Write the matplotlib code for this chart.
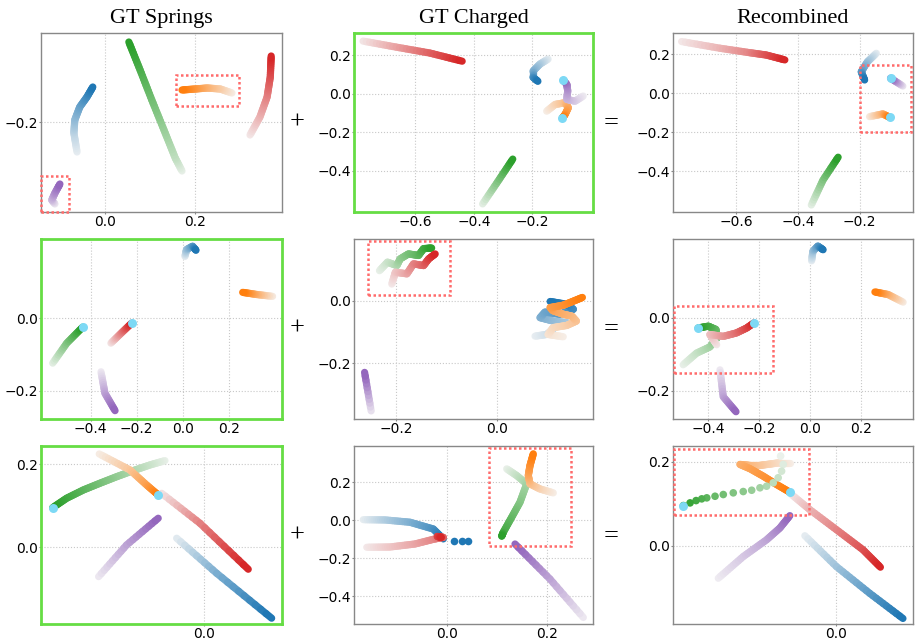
import numpy as np
import matplotlib
matplotlib.use('Agg')
import matplotlib.pyplot as plt
from matplotlib.collections import LineCollection
from matplotlib.patches import Rectangle
from matplotlib.colors import to_rgb
from matplotlib.ticker import FuncFormatter

# colours of the five particles
colors = {'blue': '#1f77b4', 'orange': '#ff7f0e', 'green': '#2ca02c',
          'red': '#d62728', 'purple': '#9467bd'}
cyan = '#7dd9f5'

col_titles = ['GT Springs', 'GT Charged', 'Recombined']

# ---- trajectories, points listed from faded start to bold end ----
springs_1 = {
    'blue': [(-0.062, -0.26), (-0.069, -0.222), (-0.067, -0.196), (-0.056, -0.17), (-0.040, -0.15), (-0.027, -0.13)],
    'green': [(0.171, -0.298), (0.156, -0.272), (0.131, -0.216), (0.104, -0.156), (0.078, -0.096), (0.053, -0.04)],
    'orange': [(0.282, -0.142), (0.256, -0.134), (0.227, -0.132), (0.2, -0.134), (0.171, -0.136)],
    'red': [(0.322, -0.226), (0.344, -0.19), (0.36, -0.15), (0.367, -0.11), (0.369, -0.068)],
    'purple': [(-0.111, -0.364), (-0.118, -0.356), (-0.111, -0.342), (-0.1, -0.324)],
}
charged_1 = {
    'red': [(-0.779, 0.272), (-0.666, 0.241), (-0.55, 0.21), (-0.44, 0.168)],
    'blue': [(-0.146, 0.179), (-0.174, 0.153), (-0.198, 0.116), (-0.198, 0.085), (-0.181, 0.064)],
    'orange': [(-0.151, -0.091), (-0.122, -0.056), (-0.088, -0.047), (-0.077, -0.073), (-0.088, -0.108), (-0.097, -0.125)],
    'purple': [(-0.026, -0.0125), (-0.054, -0.039), (-0.082, -0.03), (-0.079, 0.014), (-0.082, 0.048), (-0.094, 0.069)],
    'green': [(-0.37, -0.571), (-0.318, -0.455), (-0.267, -0.339)],
}
recomb_1 = {
    'red': [(-0.778, 0.265), (-0.654, 0.231), (-0.557, 0.208), (-0.503, 0.196), (-0.443, 0.171)],
    'blue': [(-0.146, 0.205), (-0.175, 0.161), (-0.195, 0.110), (-0.184, 0.068)],
    'orange': [(-0.168, -0.12), (-0.125, -0.106), (-0.103, -0.123)],
    'purple': [(-0.06, 0.037), (-0.1, 0.077)],
    'green': [(-0.357, -0.573), (-0.319, -0.445), (-0.27, -0.328)],
}
springs_2 = {
    'blue': [(0.01, 0.17), (0.017, 0.189), (0.043, 0.198), (0.058, 0.187)],
    'orange': [(0.391, 0.06), (0.323, 0.065), (0.261, 0.071)],
    'green': [(-0.565, -0.124), (-0.504, -0.069), (-0.435, -0.025)],
    'red': [(-0.312, -0.069), (-0.265, -0.04), (-0.222, -0.014)],
    'purple': [(-0.355, -0.148), (-0.338, -0.207), (-0.294, -0.255)],
}
charged_2 = {
    'purple': [(-0.249, -0.354), (-0.262, -0.23)],
    'green': [(-0.2325, 0.097), (-0.2166, 0.1245), (-0.198, 0.1135), (-0.1915, 0.135), (-0.175, 0.151),
              (-0.155, 0.146), (-0.145, 0.168), (-0.129, 0.17)],
    'red': [(-0.208, 0.054), (-0.201, 0.092), (-0.178, 0.087), (-0.165, 0.119), (-0.145, 0.1135),
            (-0.135, 0.135), (-0.122, 0.151)],
    'blue': [(0.076, -0.1135), (0.099, -0.108), (0.119, -0.081), (0.139, -0.070), (0.112, -0.065), (0.086, -0.054),
             (0.096, -0.036), (0.125, -0.043), (0.152, -0.027), (0.139, -0.011), (0.106, -0.002)],
    'orange': [(0.132, -0.1155), (0.102, -0.108), (0.112, -0.086), (0.139, -0.079), (0.158, -0.065), (0.149, -0.049),
               (0.132, -0.043), (0.112, -0.032), (0.106, -0.0215), (0.132, -0.014), (0.149, -0.003), (0.170, 0.011)],
}
recomb_2 = {
    'blue': [(0.0067, 0.1565), (0.012, 0.183), (0.0315, 0.197), (0.052, 0.187)],
    'orange': [(0.367, 0.043), (0.308, 0.064), (0.256, 0.071)],
    'purple': [(-0.354, -0.143), (-0.341, -0.217), (-0.291, -0.258)],
    'green': [(-0.499, -0.129), (-0.446, -0.097), (-0.394, -0.080), (-0.365, -0.055), (-0.37, -0.032),
              (-0.4, -0.023), (-0.44, -0.028)],
    'red': [(-0.367, -0.074), (-0.394, -0.046), (-0.341, -0.051), (-0.289, -0.0415), (-0.249, -0.028), (-0.22, -0.014)],
}
springs_3 = {
    'green': [(-0.0433, 0.2087), (-0.06, 0.1983), (-0.0786, 0.1846), (-0.097, 0.170), (-0.1156, 0.1542),
              (-0.134, 0.138), (-0.1526, 0.118), (-0.168, 0.0954)],
    'orange': [(-0.1163, 0.2248), (-0.0822, 0.1863), (-0.0637, 0.150), (-0.0508, 0.126)],
    'red': [(-0.047, 0.130), (-0.0044, 0.0578), (0.0492, -0.053)],
    'purple': [(-0.117, -0.0708), (-0.0859, 0.0055), (-0.0508, 0.0699)],
    'blue': [(-0.0303, 0.0217), (0.0141, -0.0627), (0.0752, -0.171)],
}
charged_3 = {
    'blue': [(-0.168, 0.003), (-0.1246, 0.0016), (-0.0746, -0.0105), (-0.028, -0.046), (-0.008, -0.098)],
    'red': [(-0.161, -0.142), (-0.1146, -0.1405), (-0.0646, -0.1247), (-0.0246, -0.098), (-0.008, -0.09),
            (-0.02, -0.085), (-0.012, -0.09)],
    'green': [(0.1188, 0.27), (0.1388, 0.2347), (0.1588, 0.191), (0.1454, 0.0947), (0.1288, 0.0158),
              (0.112, -0.063), (0.1088, -0.084)],
    'orange': [(0.212, 0.1437), (0.185, 0.1647), (0.1654, 0.191), (0.162, 0.2347), (0.1654, 0.2874), (0.172, 0.349)],
    'purple': [(0.272, -0.5105), (0.2054, -0.309), (0.1354, -0.1247)],
}
charged_3_blue_tail = [(0.0134, -0.109), (0.03, -0.109), (0.042, -0.109)]
recomb_3 = {
    'orange': [(-0.0519, 0.1976), (-0.063, 0.1976), (-0.0741, 0.1943), (-0.0852, 0.1912), (-0.0963, 0.1912),
               (-0.1074, 0.1935), (-0.0963, 0.1833), (-0.0816, 0.1656), (-0.0667, 0.1458), (-0.0519, 0.1274)],
    'red': [(-0.05, 0.1219), (-0.0297, 0.086), (0.0, 0.0382), (0.0296, -0.0096), (0.0489, -0.0509)],
    'purple': [(-0.1316, -0.0772), (-0.1038, -0.0256), (-0.0778, 0.0143), (-0.063, 0.0423), (-0.0519, 0.0717)],
    'blue': [(-0.0352, 0.0239), (0.0, -0.0495), (0.037, -0.113), (0.074, -0.1728)],
}
recomb_3_green_dots = [(-0.0622, 0.2134), (-0.0593, 0.1935), (-0.0611, 0.1775), (-0.0649, 0.1618), (-0.0704, 0.1498),
                       (-0.0778, 0.1417), (-0.0852, 0.1379), (-0.0944, 0.1321), (-0.1038, 0.129), (-0.1149, 0.1259),
                       (-0.126, 0.1219), (-0.1352, 0.1178), (-0.1444, 0.114), (-0.15, 0.1116), (-0.1563, 0.1075),
                       (-0.163, 0.102), (-0.1704, 0.0956)]

panels = [[springs_1, charged_1, recomb_1],
          [springs_2, charged_2, recomb_2],
          [springs_3, charged_3, recomb_3]]

# joined ends (cyan markers)
joints = {(0, 1): [(-0.094, 0.069), (-0.097, -0.125)],
          (0, 2): [(-0.1, 0.077), (-0.103, -0.123)],
          (1, 0): [(-0.435, -0.025), (-0.222, -0.014)],
          (1, 2): [(-0.44, -0.028), (-0.22, -0.014)],
          (2, 0): [(-0.168, 0.0954), (-0.0508, 0.126)],
          (2, 2): [(-0.1704, 0.0956), (-0.0519, 0.1274)]}

# highlighted regions (x0, y0, x1, y1)
boxes = {(0, 0): [(0.158, -0.168, 0.298, -0.106), (-0.141, -0.38, -0.08, -0.308)],
         (0, 2): [(-0.198, -0.2, -0.034, 0.145)],
         (1, 1): [(-0.255, 0.0185, -0.092, 0.191)],
         (1, 2): [(-0.535, -0.152, -0.147, 0.032)],
         (2, 1): [(0.0834, -0.1337, 0.2474, 0.3805)],
         (2, 2): [(-0.1804, 0.074, -0.0308, 0.231)]}

green_frame = [(0, 1), (1, 0), (2, 0)]

xlims = [[(-0.142, 0.393), (-0.81, 0.0075), (-0.806, -0.027)],
         [(-0.616, 0.432), (-0.283, 0.191), (-0.539, 0.406)],
         [(-0.181, 0.0867), (-0.1866, 0.2914), (-0.182, 0.0852)]]
ylims = [[(-0.38, -0.022), (-0.613, 0.314), (-0.609, 0.309)],
         [(-0.278, 0.218), (-0.38, 0.199), (-0.278, 0.2165)],
         [(-0.185, 0.244), (-0.545, 0.39), (-0.186, 0.2373)]]
xticks = [[[0.0, 0.2], [-0.6, -0.4, -0.2], [-0.6, -0.4, -0.2]],
          [[-0.4, -0.2, 0.0, 0.2], [-0.2, 0.0], [-0.4, -0.2, 0.0, 0.2]],
          [[0.0], [0.0, 0.2], [0.0]]]
yticks = [[[-0.2], [0.2, 0.0, -0.2, -0.4], [0.2, 0.0, -0.2, -0.4]],
          [[0.0, -0.2], [0.0, -0.2], [0.0, -0.2]],
          [[0.2, 0.0], [0.2, 0.0, -0.2, -0.4], [0.2, 0.0]]]

BASE = np.array(to_rgb('#f5f5f5'))
STEPS = 10  # colour steps drawn along each straight piece


def shade(color, t):
    c = np.array(to_rgb(color))
    t = np.asarray(t)[..., None]
    return BASE + (c - BASE) * t


def draw_traj(ax, pts, color, dots=False):
    xy = np.array(pts)
    n = len(xy)
    t = np.linspace(0.05, 1.0, n)
    if dots:
        ax.scatter(xy[:, 0], xy[:, 1], c=shade(color, t), s=30, linewidths=0, zorder=3)
        return
    # each straight piece between two listed points gets a smooth colour ramp
    segs, tvals = [], []
    for i in range(n - 1):
        f = np.linspace(0, 1, STEPS + 1)
        p = xy[i] + (xy[i + 1] - xy[i]) * f[:, None]
        tt = t[i] + (t[i + 1] - t[i]) * f
        for k in range(STEPS):
            segs.append(p[k:k + 2])
            tvals.append(tt[k + 1])
    lc = LineCollection(segs, colors=shade(color, tvals), linewidths=5.2, capstyle='round', zorder=2)
    ax.add_collection(lc)


fmt = FuncFormatter(lambda v, p: f"{v:.1f}".replace('-', '\u2212'))

W, H = 917, 642
fig = plt.figure(figsize=(W / 100, H / 100), dpi=100)
col_left = [41, 354, 673]
col_w = [241, 239, 240]
row_top = [33, 239, 446]
row_h = [179, 180, 178]

for r in range(3):
    for c in range(3):
        ax = fig.add_axes([col_left[c] / W, 1 - (row_top[r] + row_h[r]) / H, col_w[c] / W, row_h[r] / H])
        for name, pts in panels[r][c].items():
            draw_traj(ax, pts, colors[name])
        if (r, c) == (2, 1):
            tail = np.array(charged_3_blue_tail)
            ax.scatter(tail[:, 0], tail[:, 1], color=colors['blue'], s=30, linewidths=0, zorder=3)
        if (r, c) == (2, 2):
            draw_traj(ax, recomb_3_green_dots, colors['green'], dots=True)
        if (r, c) in joints:
            j = np.array(joints[(r, c)])
            ax.scatter(j[:, 0], j[:, 1], color=cyan, s=42, linewidths=0, zorder=4)
        for (x0, y0, x1, y1) in boxes.get((r, c), []):
            ax.add_patch(Rectangle((x0, y0), x1 - x0, y1 - y0, fill=False, edgecolor='#ff6b6b',
                                   linestyle=(0, (1, 1)), linewidth=1.8, zorder=5, clip_on=False))
        ax.set_xlim(*xlims[r][c])
        ax.set_ylim(*ylims[r][c])
        ax.set_xticks(xticks[r][c])
        ax.set_yticks(yticks[r][c])
        ax.xaxis.set_major_formatter(fmt)
        ax.yaxis.set_major_formatter(fmt)
        ax.tick_params(labelsize=10, length=1.5, color='#888888', pad=0.8)
        ax.grid(True, color='#c8c8c8', linestyle=':', linewidth=0.8)
        ax.set_axisbelow(True)
        for sp in ax.spines.values():
            if (r, c) in green_frame:
                sp.set_color('#66dd44')
                sp.set_linewidth(2.0)
            else:
                sp.set_color('#888888')
                sp.set_linewidth(1.0)
        if r == 0:
            ax.set_title(col_titles[c], fontsize=16, family='Liberation Serif', pad=7)

# operator signs between the columns
for y in [123, 329, 536]:
    fig.text(297 / W, 1 - y / H, '+', fontsize=19, family='Liberation Serif', ha='center', va='center')
    fig.text(611 / W, 1 - y / H, '=', fontsize=19, family='Liberation Serif', ha='center', va='center')

fig.savefig('out.png', dpi=100)
